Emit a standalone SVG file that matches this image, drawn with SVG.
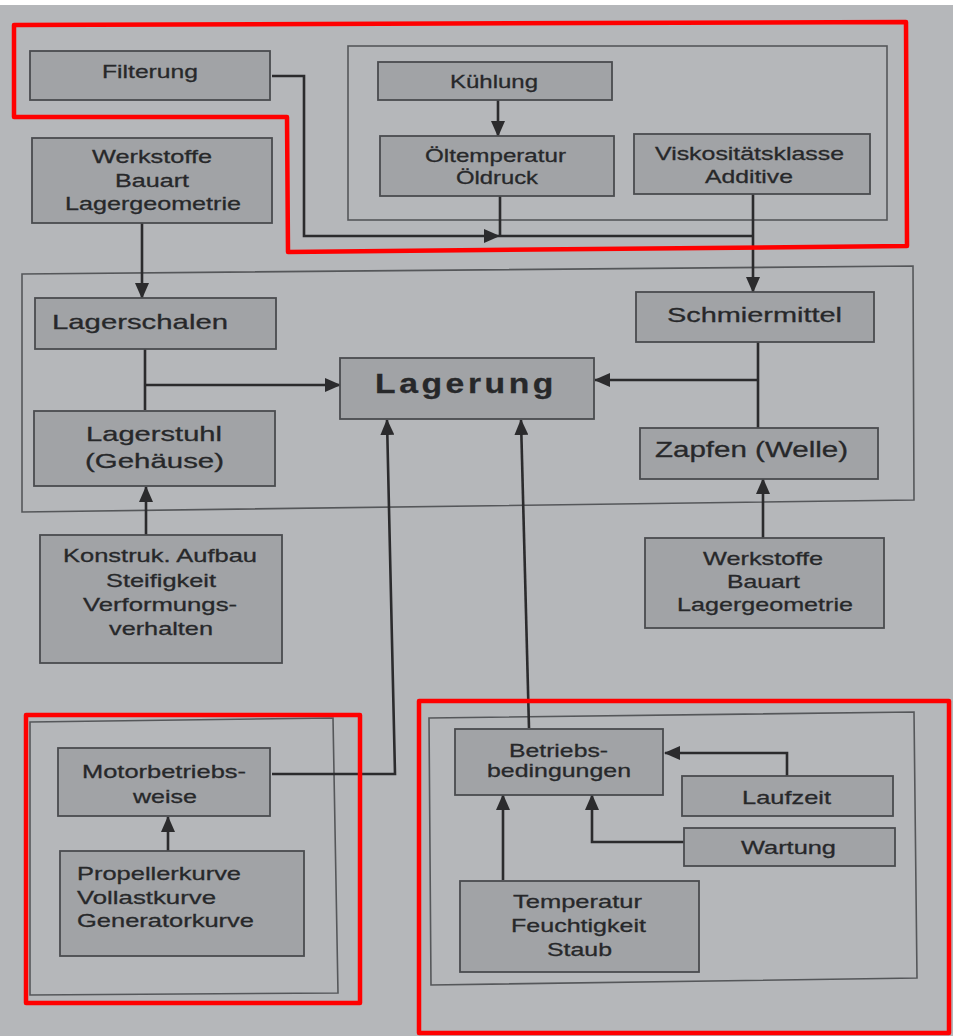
<svg xmlns="http://www.w3.org/2000/svg" width="953" height="1036" viewBox="0 0 953 1036">
<defs>
<marker id="ah" markerWidth="16" markerHeight="14" refX="15" refY="7" orient="auto" markerUnits="userSpaceOnUse">
<path d="M0,0 L16,7 L0,14 Z" fill="#2b2b2d"/>
</marker>
<style>
.frame{fill:none;stroke:#55575a;stroke-width:1.6}
.box{fill:#a1a3a6;stroke:#4a4c4f;stroke-width:1.8}
.t{font-family:"Liberation Sans",Arial,sans-serif;fill:#27282a;stroke:#27282a;stroke-width:0.3;text-anchor:middle;font-size:19px}
.l{text-anchor:start}
.m{font-size:21px}
.c{fill:none;stroke:#2b2b2d;stroke-width:2.6}
.ca{fill:none;stroke:#2b2b2d;stroke-width:2.6;marker-end:url(#ah)}
.red{fill:none;stroke:#ff0000;stroke-width:4.5;stroke-linejoin:round}
</style>
</defs>
<rect x="0" y="0" width="953" height="1036" fill="#b5b7ba"/>
<rect x="0" y="0" width="953" height="5" fill="#ffffff"/>

<g id="frames">
<rect class="frame" x="348" y="46" width="539" height="174"/>
<polygon class="frame" points="22,274 913,266 914,500 22,512"/>
<polygon class="frame" points="30,722 333,718 338,993 30,995"/>
<polygon class="frame" points="429,718 914,712 917,978 431,985"/>
</g>

<g id="connectors">
<path class="ca" d="M272,76 H304 V236 H499"/>
<path class="c" d="M499,236 H753"/>
<path class="c" d="M500,196 V236"/>
<path class="ca" d="M753,194 V292"/>
<path class="ca" d="M498,100 V136"/>
<path class="ca" d="M142,223 V298"/>
<path class="c" d="M145,349 V410"/>
<path class="ca" d="M145,385 H340"/>
<path class="ca" d="M146,535 V487"/>
<path class="ca" d="M272,774 H395 L387,420"/>
<path class="ca" d="M529,728 L521,420"/>
<path class="c" d="M758,342 V428"/>
<path class="ca" d="M758,380 H595"/>
<path class="ca" d="M763,538 V479"/>
<path class="ca" d="M168,851 V817"/>
<path class="ca" d="M787,776 V753 H665"/>
<path class="ca" d="M684,842 H592 V795"/>
<path class="ca" d="M503,880 V795"/>
</g>

<g id="filterung"><rect class="box" x="30" y="51" width="240" height="49"/><text class="t" x="150" y="78" textLength="96" lengthAdjust="spacingAndGlyphs">Filterung</text></g>
<g id="kuehlung"><rect class="box" x="378" y="62" width="234" height="38"/><text class="t" x="494" y="88" textLength="88" lengthAdjust="spacingAndGlyphs">Kühlung</text></g>
<g id="oeltemperatur"><rect class="box" x="380" y="136" width="234" height="60"/><text class="t" x="495.5" y="162" textLength="141" lengthAdjust="spacingAndGlyphs">Öltemperatur</text><text class="t" x="497" y="184" textLength="82" lengthAdjust="spacingAndGlyphs">Öldruck</text></g>
<g id="viskositaet"><rect class="box" x="634" y="134" width="236" height="60"/><text class="t" x="749.5" y="160" textLength="189" lengthAdjust="spacingAndGlyphs">Viskositätsklasse</text><text class="t" x="749" y="183" textLength="88" lengthAdjust="spacingAndGlyphs">Additive</text></g>
<g id="werkstoffe1"><rect class="box" x="32" y="138" width="240" height="85"/><text class="t" x="152" y="163" textLength="120" lengthAdjust="spacingAndGlyphs">Werkstoffe</text><text class="t" x="152" y="187" textLength="74" lengthAdjust="spacingAndGlyphs">Bauart</text><text class="t" x="153" y="210" textLength="176" lengthAdjust="spacingAndGlyphs">Lagergeometrie</text></g>
<g id="lagerschalen"><rect class="box" x="35" y="298" width="241" height="51"/><text class="t m" x="140" y="329" textLength="176" lengthAdjust="spacingAndGlyphs">Lagerschalen</text></g>
<g id="lagerstuhl"><rect class="box" x="34" y="411" width="241" height="75"/><text class="t m" x="154" y="441" textLength="136" lengthAdjust="spacingAndGlyphs">Lagerstuhl</text><text class="t m" x="154.5" y="468" textLength="139" lengthAdjust="spacingAndGlyphs">(Gehäuse)</text></g>
<g id="lagerung"><rect class="box" x="340" y="358" width="254" height="61"/><text class="t" x="466" y="393" style="font-size:28px;font-weight:bold;letter-spacing:3px" textLength="182" lengthAdjust="spacingAndGlyphs">Lagerung</text></g>
<g id="schmiermittel"><rect class="box" x="636" y="292" width="238" height="50"/><text class="t m" x="754.5" y="322" textLength="175" lengthAdjust="spacingAndGlyphs">Schmiermittel</text></g>
<g id="zapfen"><rect class="box" x="640" y="428" width="238" height="51"/><text class="t" x="751.5" y="457" style="font-size:22px" textLength="193" lengthAdjust="spacingAndGlyphs">Zapfen (Welle)</text></g>
<g id="konstruk"><rect class="box" x="40" y="535" width="242" height="128"/><text class="t" x="160" y="562" textLength="194" lengthAdjust="spacingAndGlyphs">Konstruk. Aufbau</text><text class="t" x="161" y="587" textLength="110" lengthAdjust="spacingAndGlyphs">Steifigkeit</text><text class="t" x="160" y="611" textLength="154" lengthAdjust="spacingAndGlyphs">Verformungs-</text><text class="t" x="161" y="635" textLength="104" lengthAdjust="spacingAndGlyphs">verhalten</text></g>
<g id="werkstoffe2"><rect class="box" x="645" y="538" width="239" height="90"/><text class="t" x="763" y="565" textLength="120" lengthAdjust="spacingAndGlyphs">Werkstoffe</text><text class="t" x="763.5" y="588" textLength="73" lengthAdjust="spacingAndGlyphs">Bauart</text><text class="t" x="765" y="611" textLength="176" lengthAdjust="spacingAndGlyphs">Lagergeometrie</text></g>
<g id="motorbetrieb"><rect class="box" x="58" y="748" width="212" height="68"/><text class="t" x="164" y="778" textLength="164" lengthAdjust="spacingAndGlyphs">Motorbetriebs-</text><text class="t" x="165" y="803" textLength="64" lengthAdjust="spacingAndGlyphs">weise</text></g>
<g id="kurven"><rect class="box" x="60" y="851" width="244" height="105"/><text class="t l" x="77" y="880" textLength="164" lengthAdjust="spacingAndGlyphs">Propellerkurve</text><text class="t l" x="77" y="904" textLength="139" lengthAdjust="spacingAndGlyphs">Vollastkurve</text><text class="t l" x="77" y="927" textLength="177" lengthAdjust="spacingAndGlyphs">Generatorkurve</text></g>
<g id="betriebsbedingungen"><rect class="box" x="455" y="729" width="208" height="66"/><text class="t" x="558.5" y="757" textLength="99" lengthAdjust="spacingAndGlyphs">Betriebs-</text><text class="t" x="559" y="777" textLength="144" lengthAdjust="spacingAndGlyphs">bedingungen</text></g>
<g id="laufzeit"><rect class="box" x="682" y="776" width="211" height="40"/><text class="t" x="786.5" y="804" textLength="89" lengthAdjust="spacingAndGlyphs">Laufzeit</text></g>
<g id="wartung"><rect class="box" x="684" y="828" width="211" height="38"/><text class="t" x="788.5" y="854" textLength="95" lengthAdjust="spacingAndGlyphs">Wartung</text></g>
<g id="temperatur"><rect class="box" x="460" y="881" width="239" height="91"/><text class="t" x="577.5" y="908" textLength="129" lengthAdjust="spacingAndGlyphs">Temperatur</text><text class="t" x="578.5" y="932" textLength="135" lengthAdjust="spacingAndGlyphs">Feuchtigkeit</text><text class="t" x="579.5" y="956" textLength="65" lengthAdjust="spacingAndGlyphs">Staub</text></g>

<g id="highlights">
<polygon class="red" points="14,25 906,22 907,246 288,252 287,117 14,117"/>
<rect class="red" x="26" y="715" width="334" height="288"/>
<rect class="red" x="419" y="701" width="530" height="332"/>
</g>
</svg>
